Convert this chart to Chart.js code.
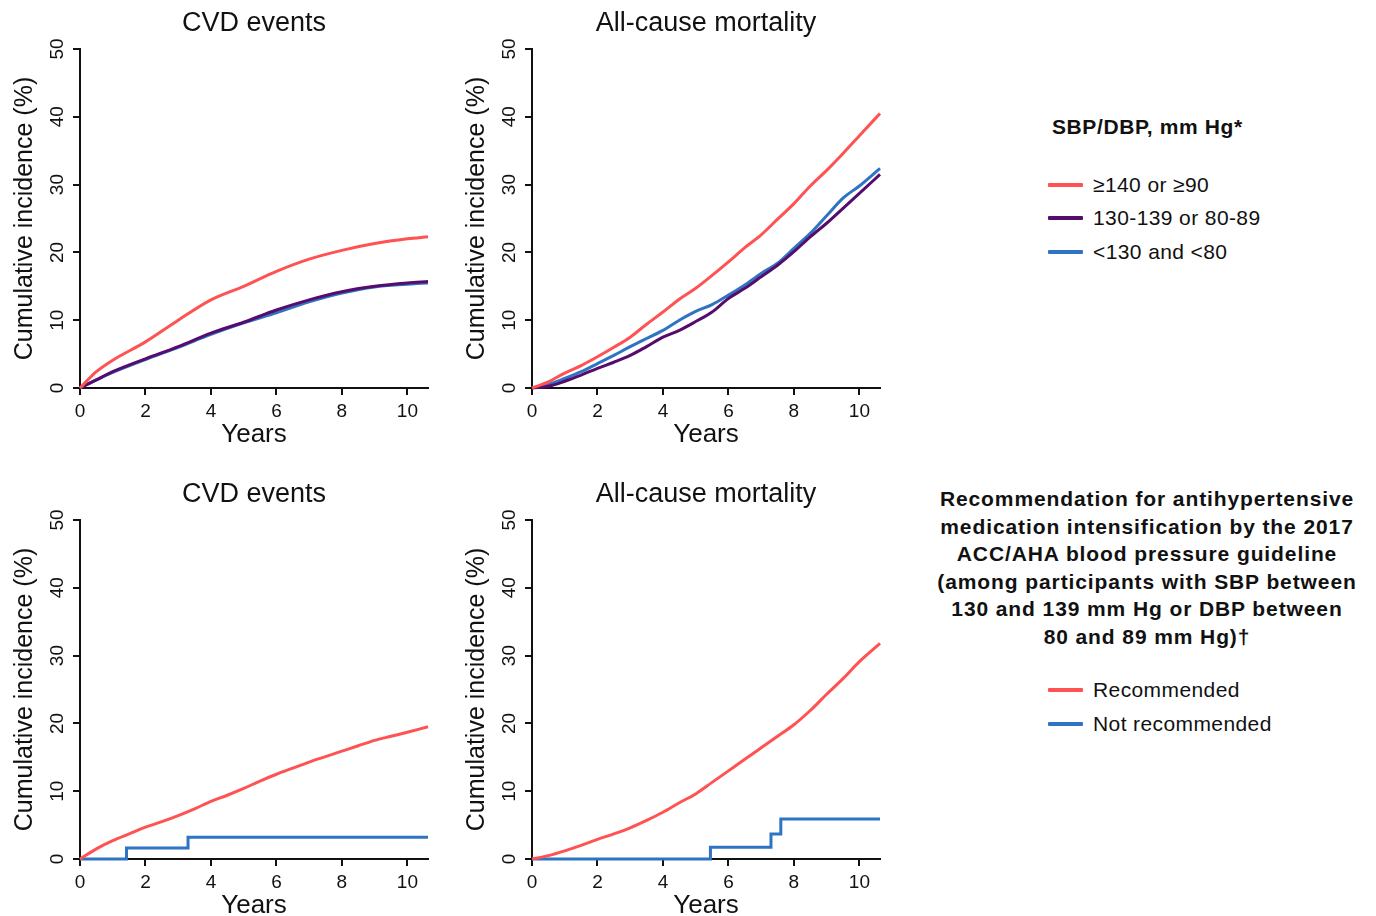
<!DOCTYPE html>
<html>
<head>
<meta charset="utf-8">
<script src="https://cdn.jsdelivr.net/npm/chart.js@4.4.1/dist/chart.umd.min.js"></script>
<style>
  html, body { margin: 0; padding: 0; background: #fff; overflow: hidden; width: 1376px; height: 916px; }
  body { position: relative; font-family: 'Liberation Sans', Arial, sans-serif; color: #111; }
  canvas { position: absolute; }
  .txt { position: absolute; white-space: nowrap; }
  .swatch { position: absolute; width: 35px; height: 4px; border-radius: 1px; }
</style>
</head>
<body>
<canvas id="cvdBp" width="450" height="460" style="left:0;top:0"></canvas>
<canvas id="mortBp" width="450" height="460" style="left:452px;top:0"></canvas>
<canvas id="cvdRec" width="450" height="460" style="left:0;top:471px"></canvas>
<canvas id="mortRec" width="450" height="460" style="left:452px;top:471px"></canvas>
<div id="legends"></div>

<script>
// ---- data ----
const xTickValues = [0, 2, 4, 6, 8, 10];
const yTickValues = [0, 10, 20, 30, 40, 50];
const X_MAX = 10.63;

const years = [0, 0.5, 1, 2, 3, 4, 5, 6, 7, 8, 9, 10, 10.63];
const halfYears = [0, 0.5, 1, 1.5, 2, 2.5, 3, 3.5, 4, 4.5, 5, 5.5, 6, 6.5, 7, 7.5, 8, 8.5, 9, 9.5, 10, 10.63];

// top row: by SBP/DBP category
const cvdHigh = [0, 2.4, 4.1, 6.8, 10.0, 13.0, 15.0, 17.2, 19.0, 20.3, 21.3, 22.0, 22.3];
const cvdMid  = [0, 1.2, 2.4, 4.3, 6.1, 8.1, 9.7, 11.5, 13.0, 14.2, 15.0, 15.5, 15.7];
const cvdLow  = [0, 1.2, 2.3, 4.2, 6.0, 7.9, 9.6, 11.1, 12.7, 14.0, 14.9, 15.3, 15.5];

const mortHigh = [0, 0.9, 2.2, 3.3, 4.6, 6.0, 7.5, 9.4, 11.2, 13.1, 14.7, 16.6, 18.6, 20.7, 22.6, 24.9, 27.2, 29.8, 32.1, 34.6, 37.2, 40.5];
const mortMid  = [0, 0.25, 1.0, 1.9, 2.9, 3.8, 4.8, 6.1, 7.5, 8.5, 9.8, 11.2, 13.2, 14.7, 16.4, 18.1, 20.1, 22.3, 24.3, 26.5, 28.7, 31.5];
const mortLow  = [0, 0.5, 1.4, 2.4, 3.6, 4.8, 6.1, 7.3, 8.5, 10.0, 11.3, 12.3, 13.7, 15.2, 16.9, 18.4, 20.6, 22.8, 25.4, 28.0, 29.8, 32.4];

// bottom row: recommended vs not recommended
const cvdRecommended  = [0, 1.5, 2.7, 3.7, 4.7, 5.5, 6.4, 7.4, 8.5, 9.4, 10.4, 11.5, 12.5, 13.4, 14.3, 15.1, 15.9, 16.7, 17.5, 18.1, 18.7, 19.5];
const mortRecommended = [0, 0.5, 1.2, 2.0, 2.9, 3.7, 4.6, 5.7, 6.9, 8.3, 9.6, 11.3, 13.0, 14.7, 16.4, 18.1, 19.8, 21.9, 24.3, 26.6, 29.1, 31.8];

// step curves (few events)
const cvdNotRecYears = [0, 1.42, 3.30, 10.63];
const cvdNotRec      = [0, 1.63, 3.2, 3.2];
const mortNotRecYears = [0, 5.45, 7.30, 7.60, 10.63];
const mortNotRec      = [0, 1.72, 3.7, 5.9, 5.9];

const bpLabels  = ["≥140 or ≥90", "130-139 or 80-89", "<130 and <80"];
const recLabels = ["Recommended", "Not recommended"];

const RED = "#ff5252";
const PURPLE = "#560c6c";
const BLUE = "#2e74c2";

Chart.defaults.font.family = "'Liberation Sans', Arial, sans-serif";
Chart.defaults.color = "#111";

function pts(xs, ys) {
  return xs.map((x, i) => ({ x: x, y: ys[i] }));
}

function line(label, xs, ys, color, stepped) {
  return {
    label: label,
    data: pts(xs, ys),
    borderColor: color,
    backgroundColor: color,
    borderWidth: 3,
    pointRadius: 0,
    stepped: !!stepped,
    cubicInterpolationMode: stepped ? "default" : "monotone",
    clip: false
  };
}

const axisStyle = {
  grid: { display: true, drawOnChartArea: false, drawTicks: true, tickLength: 7, color: "#111", lineWidth: 2 },
  border: { display: true, color: "#111", width: 2 }
};

function makePanel(id, title, datasets) {
  new Chart(document.getElementById(id), {
    type: "line",
    data: { datasets: datasets },
    options: {
      responsive: false,
      animation: false,
      devicePixelRatio: 1,
      layout: { padding: { left: 0, right: 22, top: 0, bottom: 0 } },
      plugins: {
        legend: { display: false },
        tooltip: { enabled: false },
        title: {
          display: true,
          fullSize: false,
          text: title,
          color: "#111",
          font: { size: 27, weight: "normal" },
          padding: { top: 7, bottom: 9.6 }
        }
      },
      scales: {
        x: {
          type: "linear",
          min: 0,
          max: X_MAX,
          ...axisStyle,
          ticks: { font: { size: 19 }, color: "#111", padding: 5, maxRotation: 0 },
          title: { display: true, text: "Years", color: "#111", font: { size: 26 }, padding: { top: 0, bottom: 10 } },
          afterBuildTicks: s => { s.ticks = xTickValues.map(v => ({ value: v })); },
          afterFit: s => { s.height = 72; }
        },
        y: {
          type: "linear",
          min: 0,
          max: 50,
          ...axisStyle,
          ticks: { font: { size: 19 }, color: "#111", padding: 5, minRotation: 90, maxRotation: 90, crossAlign: "center" },
          title: { display: true, text: "Cumulative incidence (%)", color: "#111", font: { size: 25 }, padding: { top: 10, bottom: 0 } },
          afterBuildTicks: s => { s.ticks = yTickValues.map(v => ({ value: v })); },
          afterFit: s => { s.width = 80; }
        }
      }
    }
  });
}

makePanel("cvdBp", "CVD events", [
  line(bpLabels[0], years, cvdHigh, RED),
  line(bpLabels[1], years, cvdMid, PURPLE),
  line(bpLabels[2], years, cvdLow, BLUE)
]);
makePanel("mortBp", "All-cause mortality", [
  line(bpLabels[0], halfYears, mortHigh, RED),
  line(bpLabels[1], halfYears, mortMid, PURPLE),
  line(bpLabels[2], halfYears, mortLow, BLUE)
]);
makePanel("cvdRec", "CVD events", [
  line(recLabels[0], halfYears, cvdRecommended, RED),
  line(recLabels[1], cvdNotRecYears, cvdNotRec, BLUE, true)
]);
makePanel("mortRec", "All-cause mortality", [
  line(recLabels[0], halfYears, mortRecommended, RED),
  line(recLabels[1], mortNotRecYears, mortNotRec, BLUE, true)
]);

// ---- legends (plain html text) ----
const legendBox = document.getElementById("legends");

function addText(text, left, centerY, css) {
  const d = document.createElement("div");
  d.className = "txt";
  d.textContent = text;
  d.style.left = left + "px";
  d.style.top = (centerY - 12) + "px";
  d.style.lineHeight = "24px";
  d.style.cssText += css || "";
  legendBox.appendChild(d);
}

function addEntry(text, color, centerY) {
  const sw = document.createElement("div");
  sw.className = "swatch";
  sw.style.left = "1048px";
  sw.style.top = (centerY - 2) + "px";
  sw.style.background = color;
  legendBox.appendChild(sw);
  addText(text, 1093, centerY, "font-size:21px;letter-spacing:0.4px;");
}

addText("SBP/DBP, mm Hg*", 1052, 127, "font-size:21px;font-weight:bold;letter-spacing:0.6px;");
[RED, PURPLE, BLUE].forEach((c, i) => addEntry(bpLabels[i], c, [185, 218, 252][i]));

const recTitle = document.createElement("div");
recTitle.className = "txt";
recTitle.style.cssText = "left:907px;width:480px;top:485px;text-align:center;font-size:21px;font-weight:bold;letter-spacing:0.9px;line-height:27.6px;white-space:normal;";
recTitle.innerHTML = "Recommendation for antihypertensive<br>medication intensification by the 2017<br>ACC/AHA blood pressure guideline<br>(among participants with SBP between<br>130 and 139 mm Hg or DBP between<br>80 and 89 mm Hg)†";
legendBox.appendChild(recTitle);

[RED, BLUE].forEach((c, i) => addEntry(recLabels[i], c, [690, 724][i]));
</script>
</body>
</html>
